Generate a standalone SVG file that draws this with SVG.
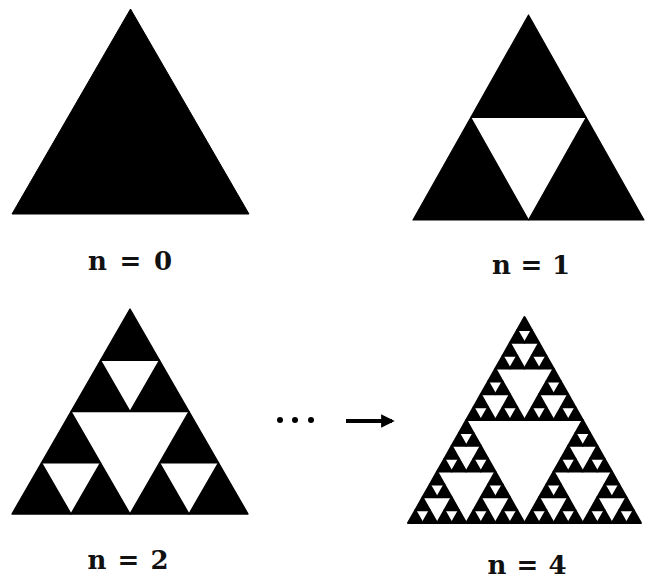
<svg xmlns="http://www.w3.org/2000/svg" xmlns:xlink="http://www.w3.org/1999/xlink" width="645" height="579" viewBox="0 0 645 579">
<style>
.tri{fill:#000;stroke:#000;stroke-linejoin:round;vector-effect:non-scaling-stroke}
.lbl{font-family:"DejaVu Serif","Liberation Serif",serif;font-weight:bold;font-size:26px;fill:#111}
</style>
<defs>
<g id="t0"><polygon class="tri" points="0,1 0.5,0 1,1"/></g>
<g id="t1"><use href="#t0" transform="translate(0.25,0) scale(0.5)"/><use href="#t0" transform="translate(0,0.5) scale(0.5)"/><use href="#t0" transform="translate(0.5,0.5) scale(0.5)"/></g>
<g id="t2"><use href="#t1" transform="translate(0.25,0) scale(0.5)"/><use href="#t1" transform="translate(0,0.5) scale(0.5)"/><use href="#t1" transform="translate(0.5,0.5) scale(0.5)"/></g>
<g id="t3"><use href="#t2" transform="translate(0.25,0) scale(0.5)"/><use href="#t2" transform="translate(0,0.5) scale(0.5)"/><use href="#t2" transform="translate(0.5,0.5) scale(0.5)"/></g>
<g id="t4"><use href="#t3" transform="translate(0.25,0) scale(0.5)"/><use href="#t3" transform="translate(0,0.5) scale(0.5)"/><use href="#t3" transform="translate(0.5,0.5) scale(0.5)"/></g>
<marker id="ah" viewBox="0 0 10 10" refX="8" refY="5" markerWidth="3.4" markerHeight="3.4" orient="auto" markerUnits="strokeWidth"><path d="M0,0 L10,5 L0,10 Z" fill="#000"/></marker>
</defs>
<rect width="645" height="579" fill="#fff"/>
<g id="fig-n0"><use href="#t0" stroke-width="1" transform="translate(12,9) scale(237,205)"/><text class="lbl" x="130" y="270" text-anchor="middle" textLength="84" lengthAdjust="spacing">n = 0</text></g>
<g id="fig-n1"><use href="#t1" stroke-width="1.2" transform="translate(413,15) scale(231,205)"/><text class="lbl" x="531" y="274" text-anchor="middle" textLength="78" lengthAdjust="spacing">n = 1</text></g>
<g id="fig-n2"><use href="#t2" stroke-width="1.4" transform="translate(12,309) scale(236,205)"/><text class="lbl" x="128" y="569" text-anchor="middle" textLength="81" lengthAdjust="spacing">n = 2</text></g>
<g id="fig-n4"><use href="#t4" stroke-width="2" transform="translate(408,317) scale(233,206)"/><text class="lbl" x="527" y="574" text-anchor="middle" textLength="79" lengthAdjust="spacing">n = 4</text></g>
<g id="connectors">
<circle cx="280" cy="420" r="3"/><circle cx="295" cy="420" r="3"/><circle cx="311" cy="420" r="3"/>
<line x1="346" y1="421" x2="392" y2="421" stroke="#000" stroke-width="4" marker-end="url(#ah)"/>
</g>
</svg>
